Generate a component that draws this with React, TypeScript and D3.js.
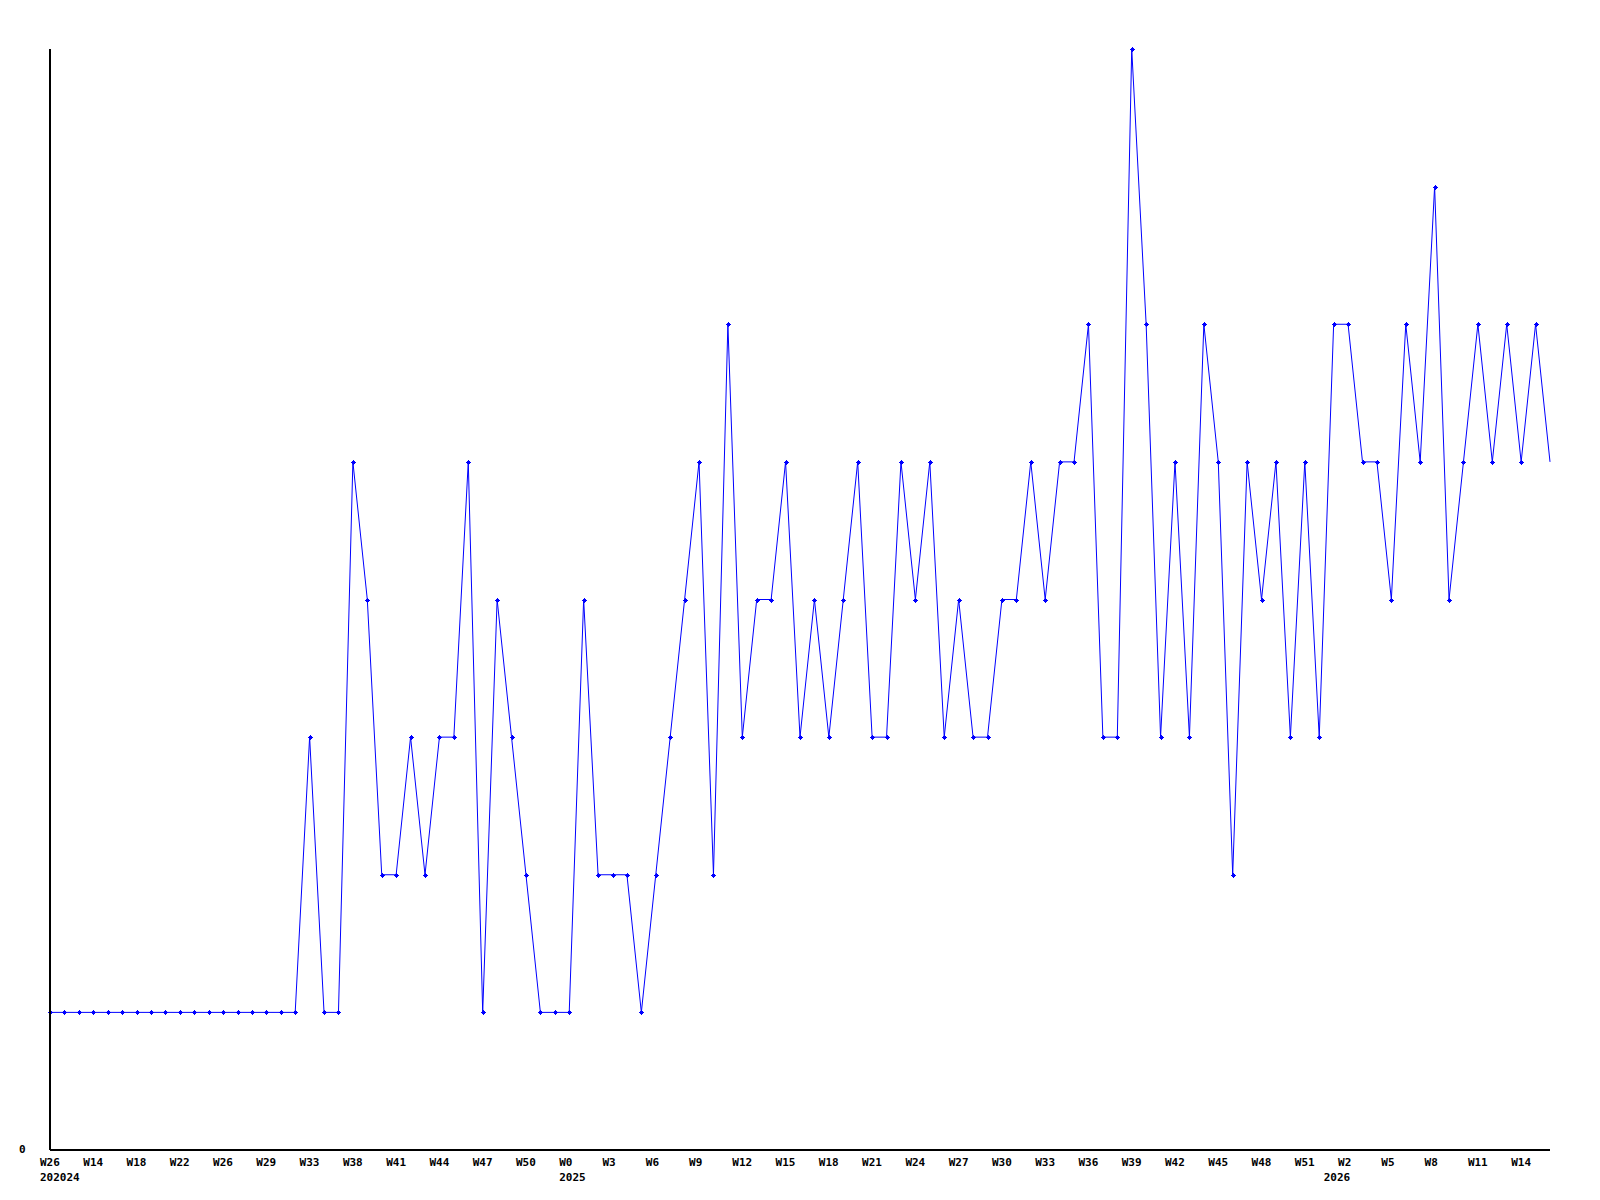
import React from "react";
import * as d3 from "d3";

const values: number[] = [
  1, 1, 1, 1, 1, 1, 1, 1, 1, 1, 1, 1, 1, 1, 1, 1, 1, 1,
  3, 1, 1, 5, 4, 2, 2, 3, 2, 3, 3, 5, 1, 4, 3, 2, 1, 1,
  1, 4, 2, 2, 2, 1, 2, 3, 4, 5, 2, 6, 3, 4, 4, 5, 3, 4,
  3, 4, 5, 3, 3, 5, 4, 5, 3, 4, 3, 3, 4, 4, 5, 4, 5, 5,
  6, 3, 3, 8, 6, 3, 5, 3, 6, 5, 2, 5, 4, 5, 3, 5, 3, 6,
  6, 5, 5, 4, 6, 5, 7, 4, 5, 6, 5, 6, 5, 6, 5,
];

const weekLabels: string[] = [
  "W26", "W14", "W18", "W22", "W26", "W29", "W33", "W38", "W41", "W44", "W47", "W50",
  "W0", "W3", "W6", "W9", "W12", "W15", "W18", "W21", "W24", "W27", "W30", "W33",
  "W36", "W39", "W42", "W45", "W48", "W51", "W2", "W5", "W8", "W11", "W14",
];
const labelStep = 3;

const yearLabels: { index: number; label: string }[] = [
  { index: 0, label: "202024" },
  { index: 36, label: "2025" },
  { index: 89, label: "2026" },
];

const W = 1600;
const H = 1200;
const left = 50;
const right = 1550;
const top = 49;
const bottom = 1150;
const yMax = 8;

export default function App() {
  const x = d3.scaleLinear().domain([0, values.length - 1]).range([left, right]);
  const y = d3.scaleLinear().domain([0, yMax]).range([bottom, top]);
  const line = d3
    .line<number>()
    .x((_, i) => x(i))
    .y((d) => y(d));
  const font = "'DejaVu Sans Mono', monospace";
  const markerPath =
    "M-2.5,-0.5h5v1h-5z M-0.5,-2.5h1v5h-1z M-1.5,-1.5h3v3h-3z";
  return (
    <div style={{ position: "absolute", left: 0, top: 0 }}>
      <svg width={W} height={H} style={{ display: "block", background: "#fff" }}>
        <rect x={0} y={0} width={W} height={H} fill="#fff" />
        <path d={line(values) || ""} fill="none" stroke="#0000ff" strokeWidth={1} />
        {values.slice(0, values.length - 1).map((v, i) => (
          <path
            key={i}
            d={markerPath}
            transform={`translate(${Math.round(x(i))},${Math.round(y(v))})`}
            fill="#0000ff"
            shapeRendering="crispEdges"
          />
        ))}
        <line x1={left} x2={left} y1={top} y2={bottom} stroke="#000" strokeWidth={1.5} shapeRendering="crispEdges" />
        <line x1={left} x2={right} y1={bottom} y2={bottom} stroke="#000" strokeWidth={1.5} shapeRendering="crispEdges" />
        <text x={19} y={1153} fontFamily={font} fontWeight="bold" fontSize={11} fill="#000">
          0
        </text>
        {weekLabels.map((lab, k) => (
          <text
            key={k}
            x={x(k * labelStep) - 10}
            y={1166}
            fontFamily={font}
            fontWeight="bold"
            fontSize={11}
            fill="#000"
          >
            {lab}
          </text>
        ))}
        {yearLabels.map((yl) => (
          <text
            key={yl.label}
            x={x(yl.index) - 10}
            y={1181}
            fontFamily={font}
            fontWeight="bold"
            fontSize={11}
            fill="#000"
          >
            {yl.label}
          </text>
        ))}
      </svg>
    </div>
  );
}
